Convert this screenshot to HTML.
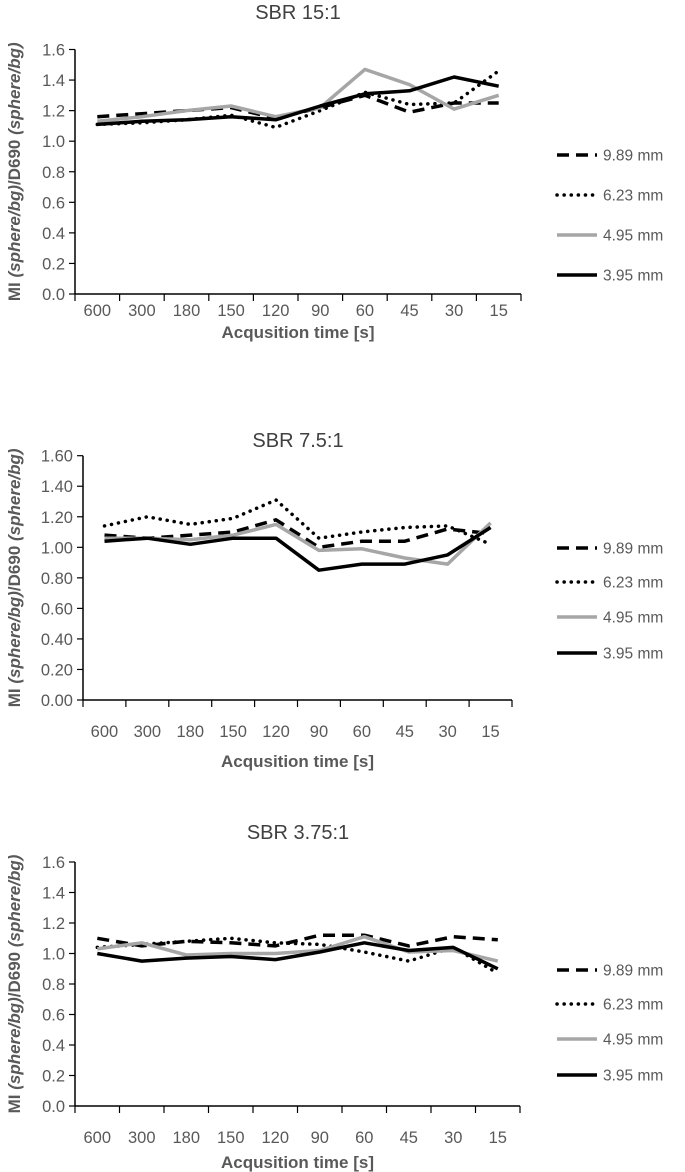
<!DOCTYPE html>
<html><head><meta charset="utf-8">
<style>
html,body{margin:0;padding:0;background:#fff;width:685px;height:1172px;overflow:hidden}
svg{display:block;font-family:"Liberation Sans",sans-serif}
</style></head>
<body>
<svg id="c" width="685" height="1172"></svg>
<script>
const categories=["600","300","180","150","120","90","60","45","30","15"];
const seriesNames=["9.89 mm","6.23 mm","4.95 mm","3.95 mm"];
const titles=["SBR 15:1","SBR 7.5:1","SBR 3.75:1"];
const tickLabels1=["0.0","0.2","0.4","0.6","0.8","1.0","1.2","1.4","1.6"];
const tickLabels2=["0.00","0.20","0.40","0.60","0.80","1.00","1.20","1.40","1.60"];
const tickLabels3=["0.0","0.2","0.4","0.6","0.8","1.0","1.2","1.4","1.6"];
const c1s1=[1.16,1.18,1.20,1.22,1.15,1.22,1.30,1.19,1.25,1.25];
const c1s2=[1.11,1.12,1.14,1.17,1.09,1.20,1.32,1.24,1.25,1.46];
const c1s3=[1.13,1.16,1.20,1.23,1.16,1.22,1.47,1.37,1.21,1.30];
const c1s4=[1.11,1.13,1.14,1.16,1.14,1.23,1.31,1.33,1.42,1.36];
const c2s1=[1.08,1.06,1.08,1.10,1.18,1.00,1.04,1.04,1.12,1.09];
const c2s2=[1.14,1.20,1.15,1.19,1.31,1.06,1.10,1.13,1.14,1.02];
const c2s3=[1.06,1.06,1.05,1.08,1.15,0.98,0.99,0.93,0.89,1.16];
const c2s4=[1.04,1.06,1.02,1.06,1.06,0.85,0.89,0.89,0.95,1.13];
const c3s1=[1.10,1.05,1.08,1.07,1.05,1.12,1.12,1.05,1.11,1.09];
const c3s2=[1.04,1.06,1.08,1.10,1.07,1.06,1.01,0.95,1.04,0.87];
const c3s3=[1.03,1.07,0.99,1.00,1.00,1.02,1.11,1.01,1.02,0.95];
const c3s4=[1.00,0.95,0.97,0.98,0.96,1.01,1.07,1.02,1.04,0.90];

const NS="http://www.w3.org/2000/svg";
const svg=document.getElementById('c');
function mk(tag,attrs,parent){const e=document.createElementNS(NS,tag);for(const k in attrs)e.setAttribute(k,attrs[k]);(parent||svg).appendChild(e);return e;}
const styles=[
 {stroke:"#000","stroke-width":3.5,"stroke-dasharray":"12,7"},
 {stroke:"#000","stroke-width":3.5,"stroke-dasharray":"0.1,7","stroke-linecap":"round"},
 {stroke:"#a6a6a6","stroke-width":3.5},
 {stroke:"#000","stroke-width":3.5}
];
const panels=[
 {title:titles[0],ticks:tickLabels1,data:[c1s1,c1s2,c1s3,c1s4],x0:75,x1:521,yTop:49.5,yBot:294,titleY:19,labY:316,axTitleY:338,legY:[155,195,235,275]},
 {title:titles[1],ticks:tickLabels2,data:[c2s1,c2s2,c2s3,c2s4],x0:83,x1:512,yTop:455.7,yBot:700,titleY:447,labY:737,axTitleY:767,legY:[548,582,617,653]},
 {title:titles[2],ticks:tickLabels3,data:[c3s1,c3s2,c3s3,c3s4],x0:75,x1:520,yTop:862,yBot:1106,titleY:839,labY:1143,axTitleY:1168,legY:[970,1004,1039,1075]}
];
panels.forEach((p,pi)=>{
  const g=mk('g',{});
  
  
  const step=(p.x1-p.x0)/categories.length;
  const xs=i=>p.x0+step*(i+0.5);
  const ys=v=>p.yBot-(v/1.6)*(p.yBot-p.yTop);
  const t=mk('text',{x:298,y:p.titleY,'text-anchor':'middle','font-size':20,fill:'#404040'},g);
  t.textContent=p.title;
  
  
  const ya=mk('line',{x1:p.x0,y1:p.yTop,x2:p.x0,y2:p.yBot,stroke:'#000','stroke-width':1.5},g);
  
  
  p.ticks.forEach((lab,i)=>{
    const v=i*0.2,y=ys(v);
    mk('line',{x1:p.x0-6,y1:y,x2:p.x0,y2:y,stroke:'#000','stroke-width':1.2},g);
    const tl=mk('text',{x:p.x0-10,y:y+6,'text-anchor':'end','font-size':16.5,fill:'#595959'},g);
    tl.textContent=lab;
    
    
  });
  const xa=mk('line',{x1:p.x0,y1:p.yBot,x2:p.x1,y2:p.yBot,stroke:'#000','stroke-width':1.5},g);
  
  
  for(let i=0;i<=categories.length;i++){const x=p.x0+step*i;mk('line',{x1:x,y1:p.yBot,x2:x,y2:p.yBot+7,stroke:'#000','stroke-width':1.2},g);}
  categories.forEach((c,i)=>{
    const tl=mk('text',{x:xs(i),y:p.labY,'text-anchor':'middle','font-size':16.5,fill:'#595959'},g);
    tl.textContent=c;
    
    
  });
  const at=mk('text',{x:(p.x0+p.x1)/2,y:p.axTitleY,'text-anchor':'middle','font-size':17,'font-weight':'bold',fill:'#595959'},g);
  at.textContent='Acqusition time [s]';
  
  
  const cy=(p.yTop+p.yBot)/2;
  const yt=mk('text',{x:0,y:0,'text-anchor':'middle','font-size':17,'font-weight':'bold',fill:'#595959',transform:`translate(20,${cy}) rotate(-90)`},g);
  yt.innerHTML='MI <tspan font-style="italic">(sphere/bg)</tspan>/D690 <tspan font-style="italic">(sphere/bg)</tspan>';
  
  
  p.data.forEach((arr,si)=>{
    const d=arr.map((v,i)=>(i?'L':'M')+xs(i).toFixed(1)+','+ys(v).toFixed(1)).join(' ');
    const a=Object.assign({d:d,fill:'none','stroke-linejoin':'round'},styles[si]);
    const pth=mk('path',a,g);
    
    
    const ly=p.legY[si];
    const la=Object.assign({x1:557,y1:ly,x2:597,y2:ly},styles[si]);
    const ll=mk('line',la,g);
    
    
    const lt=mk('text',{x:603,y:ly+5.5,'font-size':15.5,fill:'#595959'},g);
    lt.textContent=seriesNames[si];
    
    
  });
});
</script>
</body></html>
